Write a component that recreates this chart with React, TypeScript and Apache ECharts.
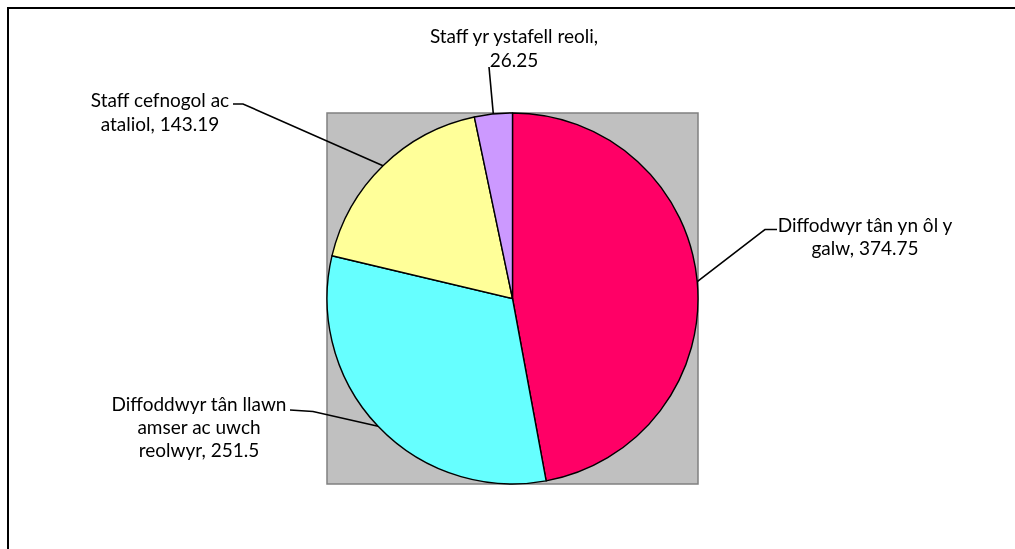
import React, { useEffect, useRef } from "react";
import * as echarts from "echarts";

const categories = [
  "Diffodwyr tân yn ôl y galw",
  "Diffoddwyr tân llawn amser ac uwch reolwyr",
  "Staff cefnogol ac ataliol",
  "Staff yr ystafell reoli",
];
const values = [374.75, 251.5, 143.19, 26.25];
const colors = ["#FF0066", "#66FFFF", "#FFFF99", "#CC99FF"];
// word indices after which the label "name, value" wraps
const labelBreaks = [[5], [3, 6], [3], [4]];

// label layout (text block centre, leader-line elbow and end)
const labelPlacement = [
  { x: 865, y: 236, elbow: [765, 229.5], end: [777, 229.5], lh: 23.3 },
  { x: 199, y: 426.5, elbow: [313, 411.5], end: [290, 410], lh: 23.3 },
  { x: 160, y: 111.5, elbow: [243, 104], end: [233, 104], lh: 23.3 },
  { x: 514, y: 47.5, elbow: [489, 67], end: [489, 67], lh: 24 },
];

const CX = 512.5;
const CY = 298.5;
const R = 185.5;

function wrapLabel(text: string, breaks: number[]) {
  const words = text.split(" ");
  const lines: string[] = [];
  let start = 0;
  for (const b of breaks) {
    lines.push(words.slice(start, b).join(" "));
    start = b;
  }
  lines.push(words.slice(start).join(" "));
  return lines.join("\n");
}

export default function App() {
  const ref = useRef<HTMLDivElement>(null);
  useEffect(() => {
    if (!ref.current) return;
    const chart = echarts.init(ref.current, null, { renderer: "svg" });
    const total = values.reduce((a, b) => a + b, 0);
    const midEdge = (i: number) => {
      const before = values.slice(0, i).reduce((a, b) => a + b, 0);
      const ang = ((before + values[i] / 2) / total) * Math.PI * 2;
      return [CX + R * Math.sin(ang), CY - R * Math.cos(ang)];
    };
    chart.setOption({
      animation: false,
      graphic: [
        {
          type: "rect",
          z: -10,
          shape: { x: 8, y: 8, width: 1200, height: 700 },
          style: { fill: "#ffffff", stroke: "#000000", lineWidth: 2 },
        },
        {
          type: "rect",
          z: -5,
          shape: { x: CX - R, y: CY - R, width: 2 * R, height: 2 * R },
          style: { fill: "#C0C0C0", stroke: "#808080", lineWidth: 1.5 },
        },
      ],
      series: [
        {
          type: "pie",
          z: 5,
          center: [CX, CY],
          radius: R,
          startAngle: 90,
          clockwise: true,
          avoidLabelOverlap: false,
          itemStyle: { borderColor: "#000000", borderWidth: 1.4 },
          label: {
            show: true,
            position: "outside",
            color: "#000000",
            fontFamily: "Lato",
            fontSize: 19,
            lineHeight: 23.3,
            align: "center",
            formatter: (p: any) =>
              wrapLabel(`${p.name}, ${p.value}`, labelBreaks[p.dataIndex]),
          },
          labelLine: {
            show: true,
            length: 10,
            length2: 10,
            smooth: false,
            lineStyle: { color: "#000000", width: 1.6 },
          },
          labelLayout: (params: any) => {
            const i = params.dataIndex;
            const p = labelPlacement[i];
            const edge = midEdge(i);
            return {
              x: p.x,
              y: p.y,
              align: "center",
              verticalAlign: "middle",
              labelLinePoints: [edge, p.elbow, p.end],
            };
          },
          emphasis: { disabled: true },
          data: categories.map((name, i) => ({
            name,
            value: values[i],
            itemStyle: { color: colors[i] },
            label: { lineHeight: labelPlacement[i].lh },
          })),
        },
      ],
    });
    return () => chart.dispose();
  }, []);
  return (
    <div
      ref={ref}
      style={{ position: "fixed", left: 0, top: 0, width: 1015, height: 549 }}
    />
  );
}
